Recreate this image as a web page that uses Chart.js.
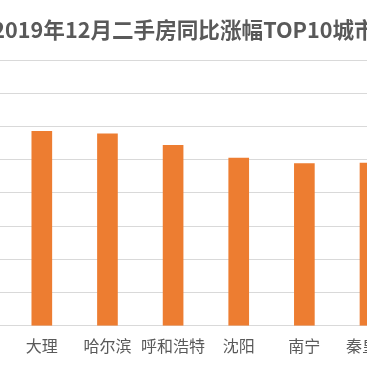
<!DOCTYPE html>
<html>
<head>
<meta charset="utf-8">
<script src="https://cdn.jsdelivr.net/npm/chart.js@4"></script>
<style>
	html, body { margin: 0; padding: 0; background: #fff; overflow: hidden; width: 367px; height: 367px; }
	#wrap { position: relative; width: 367px; height: 367px; overflow: hidden; }
	#title {
		position: absolute; left: -98px; width: 564px; top: 15px;
		text-align: center; white-space: nowrap;
		font-family: "Noto Sans CJK SC", sans-serif; font-weight: bold;
		font-size: 21.6px; line-height: 28px; color: #595959; z-index: 2;
	}
	#myChart { position: absolute; left: 0; top: 0; }
</style>
</head>
<body>
<div id="wrap">
	<div id="title">2019年12月二手房同比涨幅TOP10城市</div>
	<canvas id="myChart" width="405" height="367"></canvas>
</div>
<script>
// 城市, 同比涨幅(%)
var city_list = ['大理', '哈尔滨', '呼和浩特', '沈阳', '南宁', '秦皇岛'];
var rise_list = [5.85, 5.78, 5.43, 5.05, 4.88, 4.9];
var tick_list = [0, 1, 2, 3, 4, 5, 6, 7, 8];

const chartArea = document.getElementById('myChart').getContext('2d');
const myChart = new Chart(chartArea, {
	type: 'bar',
	data: {
		labels: city_list,
		datasets: [{
			label: '同比涨幅',
			data: rise_list,
			backgroundColor: '#ed7d31',
			borderWidth: 0,
			barThickness: 20
		}]
	},
	options: {
		responsive: false,
		animation: false,
		layout: {
			padding: { top: 60, bottom: 0, left: 0, right: 0 }
		},
		plugins: {
			legend: { display: false },
			tooltip: { enabled: false }
		},
		scales: {
			x: {
				grid: { display: false, drawTicks: false },
				border: { display: false },
				ticks: {
					padding: 11,
					color: '#595959',
					font: { family: '"Noto Sans CJK SC", sans-serif', size: 16 },
					maxRotation: 0,
					autoSkip: false
				}
			},
			y: {
				min: tick_list[0],
				max: tick_list[tick_list.length - 1],
				afterBuildTicks: function (axis) {
					axis.ticks = tick_list.map(v => ({ value: v }));
				},
				grid: {
					color: '#d9d9d9',
					lineWidth: 1,
					drawTicks: true,
					tickLength: 9
				},
				border: { display: false },
				ticks: { display: false }
			}
		}
	}
});
</script>
</body>
</html>
